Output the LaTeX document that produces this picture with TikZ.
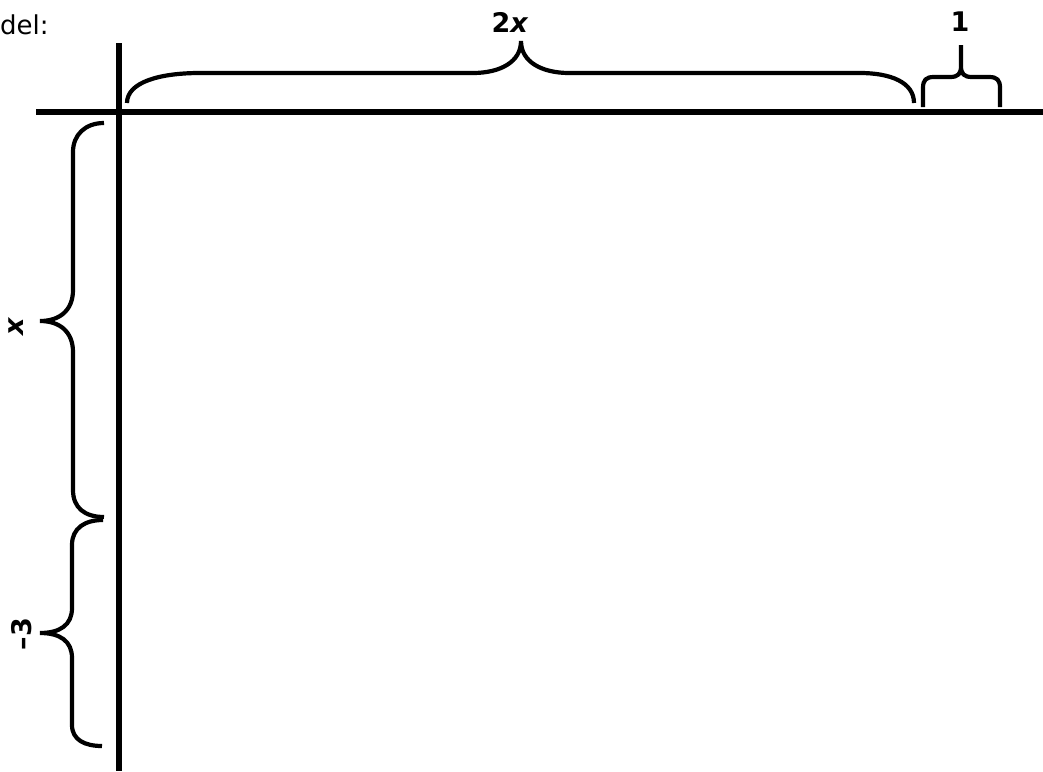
\documentclass[tikz,border=0pt]{standalone}
\usepackage{fontspec}
\setmainfont{DejaVu Sans}
\usetikzlibrary{positioning}

\begin{document}
\begin{tikzpicture}[x=1pt, y=-1pt,
  axis/.style={line width=6.2pt},
  curly/.style={line width=4.2pt, line cap=butt},
  lbl/.style={font=\fontsize{27}{32}\selectfont\bfseries, inner sep=0pt},
  txt/.style={font=\fontsize{26}{32}\selectfont, inner sep=0pt}]
\useasboundingbox (0,0) rectangle (1043,771);
\node[txt, anchor=base west] (title) at (0,34) {del:};
\coordinate (hl) at (36,112);
\coordinate (hr) at (1043,112);
\coordinate (vt) at (119,43);
\coordinate (vb) at (119,771);
\draw[axis] (hl) -- (hr);
\draw[axis] (vt) -- (vb);
% labels
\node[lbl] (twox) at (510,22) {2\textit{x}};
\node[lbl] (one) at (960,22) {1};
\node[lbl, rotate=90] (xlab) at (16,326) {\textit{x}};
\node[lbl, rotate=90] (minus3) at (22,634) {–3};
% braces
\draw[curly] (127,103) .. controls (127,82) and (160,73) .. (200,73) -- (473,73)
  .. controls (500,73) and (521,62) .. (521,41)
  .. controls (521,62) and (542,73) .. (569,73) -- (860,73)
  .. controls (890,73) and (914,82) .. (914,103);
\draw[curly] (923,107) -- (923,88) .. controls (923,80) and (926,77) .. (934,77) -- (950,77)
  .. controls (958,77) and (961,74) .. (961,66) -- (961,45) -- (961,66)
  .. controls (961,74) and (964,77) .. (972,77) -- (989,77)
  .. controls (997,77) and (1000,80) .. (1000,88) -- (1000,107);
\draw[curly] (104,123) .. controls (85,123) and (73,135) .. (73,152) -- (73,290)
  .. controls (73,310) and (60,321) .. (40,321)
  .. controls (60,321) and (73,332) .. (73,352) -- (73,490)
  .. controls (73,508) and (85,517) .. (104,517);
\draw[curly] (103,520) .. controls (85,520) and (72,528) .. (72,545) -- (72,608)
  .. controls (72,625) and (60,633) .. (40,633)
  .. controls (60,633) and (72,641) .. (72,658) -- (72,725)
  .. controls (72,740) and (85,746) .. (102,746);
\end{tikzpicture}
\end{document}
